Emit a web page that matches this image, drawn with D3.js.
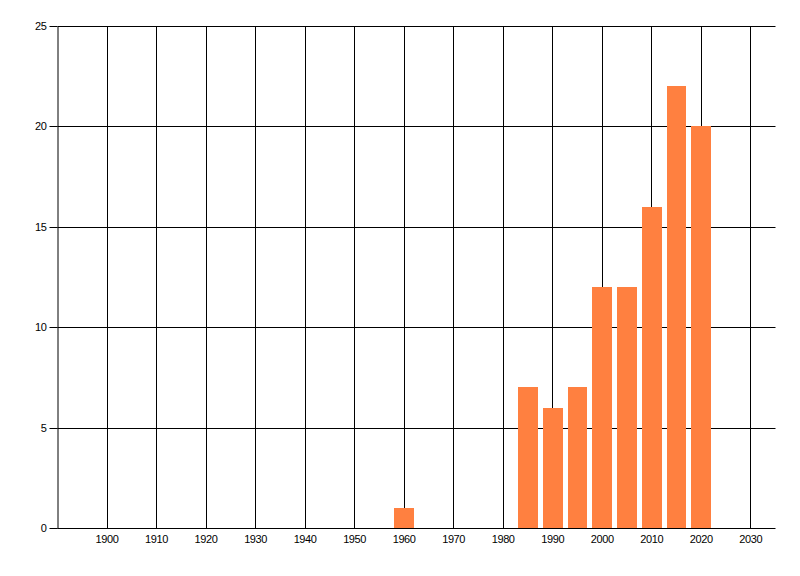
<!DOCTYPE html>
<html>
<head>
<meta charset="utf-8">
<script src="https://cdn.jsdelivr.net/npm/d3@7"></script>
<style>
  html, body { margin: 0; padding: 0; background: #fff; }
  svg text { font-family: "Liberation Sans", Arial, sans-serif; font-size: 11px; fill: #000; letter-spacing: -0.4px; }
</style>
</head>
<body>
<div id="chart"></div>
<script>
// --- Data ---
const years = [1960, 1985, 1990, 1995, 2000, 2005, 2010, 2015, 2020];
const counts = [1, 7, 6, 7, 12, 12, 16, 22, 20];
const xTicks = [1900, 1910, 1920, 1930, 1940, 1950, 1960, 1970, 1980, 1990, 2000, 2010, 2020, 2030];
const yTicks = [0, 5, 10, 15, 20, 25];

const width = 800;
const height = 576;
const barYears = 4; // bar width in years
const barColor = "#ff8040";

const svg = d3.select("#chart").append("svg")
  .attr("width", width)
  .attr("height", height);

const x = d3.scaleLinear().domain([1890, 2035]).range([57.5, 775.5]);
const y = d3.scaleLinear().domain([0, 25]).range([528.5, 26.5]);

// snap a coordinate to the pixel centre so 1px lines stay sharp
const px = (v) => Math.floor(v) + 0.5;

// y axis with ticks on the left
const yAxis = svg.append("g")
  .attr("transform", `translate(${px(x(1890))},0)`)
  .call(d3.axisLeft(y).tickValues(yTicks).tickSize(8).tickPadding(3).tickSizeOuter(0));
yAxis.select(".domain").attr("stroke", "#000");
yAxis.selectAll(".tick").attr("transform", (d) => `translate(0,${px(y(d))})`);
yAxis.selectAll(".tick line").attr("stroke", "#000");
yAxis.selectAll("text").attr("font-size", null).attr("font-family", null);

// horizontal grid
svg.append("g")
  .selectAll("line")
  .data(yTicks)
  .join("line")
  .attr("x1", px(x(1890)))
  .attr("x2", x(2035))
  .attr("y1", (d) => px(y(d)))
  .attr("y2", (d) => px(y(d)))
  .attr("stroke", "#000");

// vertical grid
svg.append("g")
  .selectAll("line")
  .data(xTicks)
  .join("line")
  .attr("x1", (d) => px(x(d)))
  .attr("x2", (d) => px(x(d)))
  .attr("y1", px(y(25)))
  .attr("y2", px(y(0)))
  .attr("stroke", "#000");

// x labels
svg.append("g")
  .selectAll("text")
  .data(xTicks)
  .join("text")
  .attr("x", (d) => x(d))
  .attr("y", y(0) + 14)
  .attr("text-anchor", "middle")
  .text((d) => d);

// bars
svg.append("g")
  .selectAll("rect")
  .data(years)
  .join("rect")
  .attr("x", (d) => Math.round(x(d - barYears / 2)))
  .attr("width", (d) => Math.round(x(d + barYears / 2)) - Math.round(x(d - barYears / 2)))
  .attr("y", (d, i) => Math.floor(y(counts[i])))
  .attr("height", (d, i) => Math.floor(y(0)) - Math.floor(y(counts[i])))
  .attr("fill", barColor);
</script>
</body>
</html>
